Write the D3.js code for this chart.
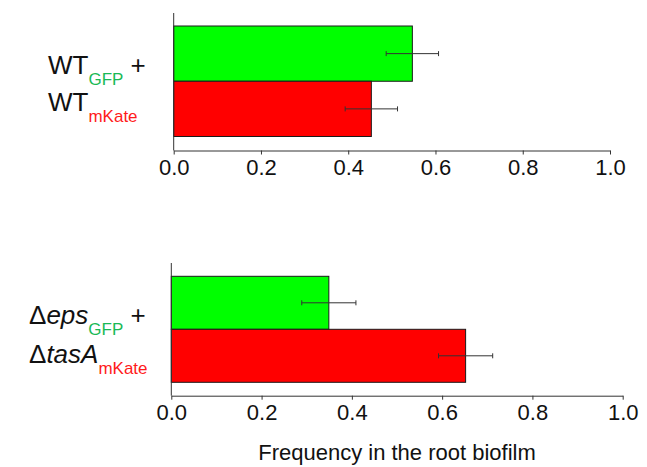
<!DOCTYPE html>
<html lang="en">
    <head>
       <script src="https://d3js.org/d3.v7.min.js"></script>
       <style>
           body { margin: 0; background: #fff; }
           text { font-family: "Liberation Sans", Arial, sans-serif; }
       </style>
    </head>
    <body>
        <script>
            var width  = 647;
            var height = 467;

            // data
            var strains   = ["GFP", "mKate"];
            var wtMeans   = [0.547, 0.453];
            var wtErrs    = [0.060, 0.060];
            var mutMeans  = [0.349, 0.652];
            var mutErrs   = [0.060, 0.060];
            var tickVals  = [0, 0.2, 0.4, 0.6, 0.8, 1.0];
            var xTitle    = "Frequency in the root biofilm";

            var barColours = { GFP: "#00ff00", mKate: "#ff0000" };
            var subColours = { GFP: "#19b955", mKate: "#ff1a1a" };

            var svg = d3.select("body")
                        .append("svg")
                        .attr("id", "canvas")
                        .attr("width", width)
                        .attr("height", height);

            // one panel = a pair of horizontal bars + its own x axis
            function drawPanel(means, errs, box) {
                var x = d3.scaleLinear().domain([0, 1]).range([box.x0, box.x1]);
                var y = d3.scaleBand().domain(strains).range([box.yTop, box.yBot]).padding(0);

                var g = svg.append("g");

                g.selectAll("rect.bar")
                 .data(strains)
                 .enter()
                 .append("rect")
                 .attr("class", "bar")
                 .attr("x", x(0))
                 .attr("y", function(d) { return y(d); })
                 .attr("width", function(d, i) { return x(means[i]) - x(0); })
                 .attr("height", y.bandwidth())
                 .attr("fill", function(d) { return barColours[d]; })
                 .attr("stroke", "#1a1a1a")
                 .attr("stroke-width", 1);

                // error bars
                strains.forEach(function(d, i) {
                    var cy = y(d) + y.bandwidth() / 2;
                    var lo = x(means[i] - errs[i]), hi = x(means[i] + errs[i]);
                    g.append("line").attr("x1", lo).attr("x2", hi).attr("y1", cy).attr("y2", cy)
                     .attr("stroke", "#333").attr("stroke-width", 1);
                    [lo, hi].forEach(function(px) {
                        g.append("line").attr("x1", px).attr("x2", px).attr("y1", cy - 2.5).attr("y2", cy + 2.5)
                         .attr("stroke", "#333").attr("stroke-width", 1);
                    });
                });

                // y axis line (no ticks)
                g.append("line")
                 .attr("x1", x(0)).attr("x2", x(0))
                 .attr("y1", box.axisTop).attr("y2", box.axisY)
                 .attr("stroke", "#333").attr("stroke-width", 1);

                var ax = g.append("g")
                          .attr("transform", "translate(0," + box.axisY + ")")
                          .call(d3.axisBottom(x)
                                  .tickValues(tickVals)
                                  .tickSize(4)
                                  .tickSizeOuter(0)
                                  .tickPadding(5)
                                  .tickFormat(d3.format(".1f")));
                ax.select(".domain").attr("stroke", "#333");
                ax.selectAll(".tick line").attr("stroke", "#333");
                ax.selectAll(".tick text")
                  .attr("font-family", "Liberation Sans, Arial, sans-serif")
                  .attr("font-size", 22)
                  .attr("fill", "#111");
                return x;
            }

            drawPanel(wtMeans, wtErrs, { x0: 173.7, x1: 610, yTop: 26, yBot: 136.5, axisTop: 13, axisY: 150.5 });
            drawPanel(mutMeans, mutErrs, { x0: 171.3, x1: 622.7, yTop: 276.3, yBot: 382.3, axisTop: 263, axisY: 395.7 });

            // category labels with coloured subscripts
            function label(xp, yp, parts) {
                var t = svg.append("text").attr("x", xp).attr("y", yp).attr("font-size", 26).attr("fill", "#111");
                parts.forEach(function(p) {
                    var s = t.append("tspan").text(p.text);
                    if (p.italic) s.attr("font-style", "italic");
                    if (p.sub) {
                        s.attr("font-size", 17).attr("dy", 11).attr("fill", subColours[p.sub]);
                    }
                    if (p.up) s.attr("dy", -11);
                });
            }

            label(48, 74,  [{ text: "WT" }, { text: "GFP", sub: "GFP" }, { text: " +", up: true }]);
            label(48, 111, [{ text: "WT" }, { text: "mKate", sub: "mKate" }]);
            label(29, 324, [{ text: "\u0394" }, { text: "eps", italic: true }, { text: "GFP", sub: "GFP" }, { text: " +", up: true }]);
            label(29, 363, [{ text: "\u0394" }, { text: "tasA", italic: true }, { text: "mKate", sub: "mKate" }]);

            svg.append("text")
               .attr("x", 397)
               .attr("y", 460)
               .attr("text-anchor", "middle")
               .attr("font-size", 22)
               .attr("fill", "#111")
               .text(xTitle);
        </script>
    </body>
</html>
